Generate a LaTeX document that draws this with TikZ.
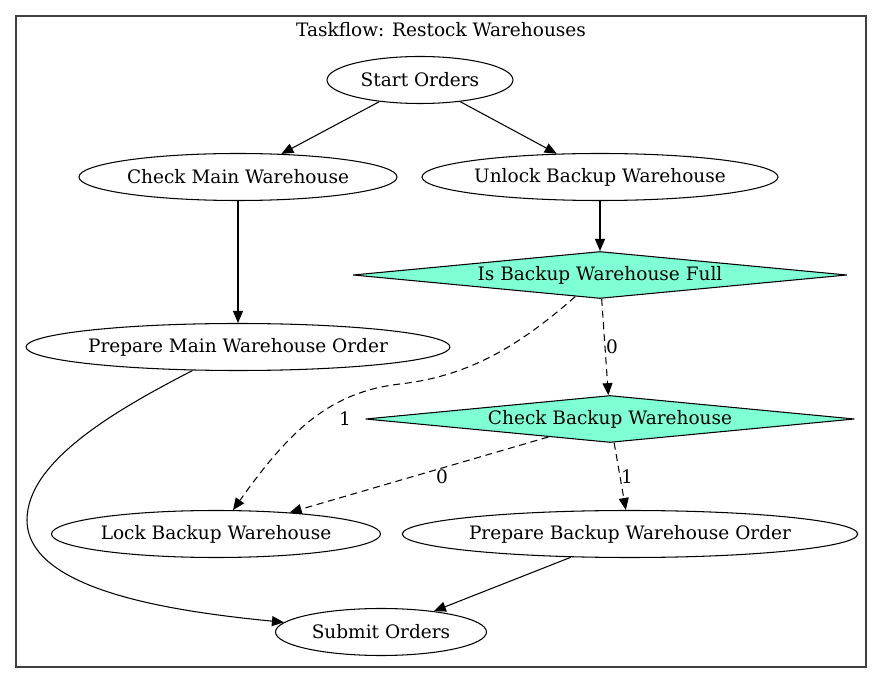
\documentclass[tikz,border=0pt]{standalone}
\usepackage{fontspec}
\setmainfont{DejaVu Serif}
\usetikzlibrary{shapes.geometric,arrows.meta}
\definecolor{aquamarine}{HTML}{7FFFD4}
\tikzset{
  task/.style={ellipse,draw,line width=0.9pt,inner sep=0pt,minimum height=47\unitpx},
  cond/.style={diamond,draw,line width=0.9pt,fill=aquamarine,inner sep=0pt,aspect=10,minimum height=47\unitpx},
  flow/.style={-{Triangle[length=12\unitpx,width=10\unitpx]},line width=0.9pt},
  dflow/.style={flow,dash pattern=on 6pt off 4pt},
  lbl/.style={inner sep=1pt}
}
\newcommand{\unitpx}{*0.03cm}
\begin{document}
\begin{tikzpicture}[x=0.03cm,y=-0.03cm,font=\fontsize{15.8}{18}\selectfont]
\useasboundingbox (0,0) rectangle (883,684);
\draw[black!75,line width=1pt] (16,16) rectangle (866,667);
\node (title) at (441,30) {Taskflow: Restock Warehouses};

\node[task,minimum width=186\unitpx] (start) at (420,80) {Start Orders};
\node[task,minimum width=318\unitpx] (cmain) at (238,177) {Check Main Warehouse};
\node[task,minimum width=356\unitpx] (unlock) at (600,177) {Unlock Backup Warehouse};
\node[cond,minimum width=494\unitpx] (full) at (600,275) {Is Backup Warehouse Full};
\node[task,minimum width=422\unitpx] (pmain) at (238,347) {Prepare Main Warehouse Order};
\node[cond,minimum width=489\unitpx] (cbackup) at (610,419) {Check Backup Warehouse};
\node[task,minimum width=329\unitpx] (lock) at (216,534) {Lock Backup Warehouse};
\node[task,minimum width=450\unitpx] (pbackup) at (630,534) {Prepare Backup Warehouse Order};
\node[task,minimum width=211\unitpx] (submit) at (381,632) {Submit Orders};

\coordinate (bend1) at (400,384);
\coordinate (bend2) at (27,520);

\draw[flow] (start) -- (cmain);
\draw[flow] (start) -- (unlock);
\draw[flow] (cmain) -- (pmain);
\draw[flow] (unlock) -- (full);
\draw[dflow] (full) -- (cbackup);
\draw[dflow] (full) .. controls (520,345) and (470,376) .. (bend1)
  .. controls (330,392) and (290,430) .. (lock);
\draw[dflow] (cbackup) -- (lock);
\draw[dflow] (cbackup) -- (pbackup);
\draw[flow] (pmain) .. controls (120,408) and (27,460) .. (bend2)
  .. controls (27,592) and (180,612) .. (submit);
\draw[flow] (pbackup) -- (submit);

\node[lbl] (l0a) at (612,347) {0};
\node[lbl] (l1a) at (345,419) {1};
\node[lbl] (l0b) at (442,477) {0};
\node[lbl] (l1b) at (627,477) {1};
\end{tikzpicture}
\end{document}
